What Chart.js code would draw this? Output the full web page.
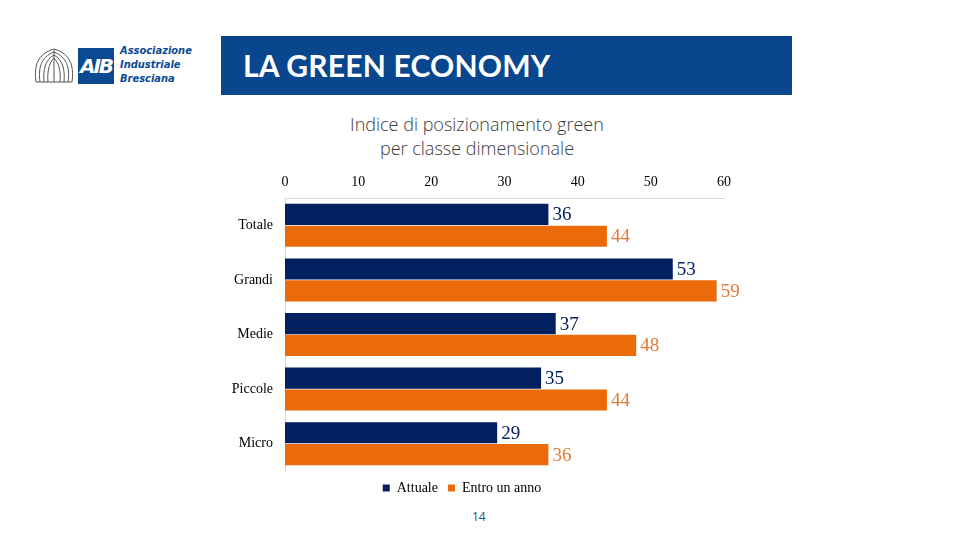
<!DOCTYPE html>
<html>
<head>
<meta charset="utf-8">
<script src="https://cdn.jsdelivr.net/npm/chart.js@4"></script>
<style>
  body { margin: 0; width: 960px; height: 540px; background: #fff; position: relative; overflow: hidden; font-family: "Open Sans", sans-serif; }
  .banner { position: absolute; left: 221px; top: 36px; width: 571px; height: 59px; background: #08468e; }
  .banner span { position: absolute; left: 22px; top: 11px; color: #fff; font-family: Lato, sans-serif; font-weight: 700; font-size: 30px; letter-spacing: 0.2px; }
  .logo-box { position: absolute; left: 78px; top: 48px; width: 36px; height: 36px; background: #0b4a92; color: #fff; font: italic 900 20px "DejaVu Sans", sans-serif; line-height: 36px; text-align: center; letter-spacing: -2px; }
  .logo-text { position: absolute; left: 120px; top: 44px; color: #0b4a92; font: italic 700 11px "DejaVu Sans Condensed", "DejaVu Sans", sans-serif; line-height: 14px; }
  .shell { position: absolute; left: 33px; top: 46px; }
  .title { position: absolute; left: 277px; top: 112px; width: 400px; text-align: center; font-family: "Open Sans", sans-serif; font-weight: 300; font-size: 18px; line-height: 24px; color: #3a3a3a; }
  .page { position: absolute; left: 472px; top: 508px; font-family: "Open Sans", sans-serif; font-size: 12px; color: #1f4e79; }
  #chartWrap { position: absolute; left: 200px; top: 165px; width: 570px; height: 340px; }
</style>
</head>
<body>
<svg class="shell" width="42" height="40" viewBox="0 0 42 40">
  <g fill="none" stroke="#555" stroke-width="1">
    <path d="M3 36 C1 20 4 8 21 3 C38 8 41 20 39 36"/>
    <path d="M7 36 C5 22 8 11 21 6 C34 11 37 22 35 36"/>
    <path d="M11 36 C10 24 12 14 21 9 C30 14 32 24 31 36"/>
    <path d="M15 36 C14 26 16 17 21 12 C26 17 28 26 27 36"/>
    <path d="M21 4 L21 36"/>
    <path d="M3 36 L39 36"/>
  </g>
</svg>
<div class="logo-box">AIB</div>
<div class="logo-text">Associazione<br>Industriale<br>Bresciana</div>
<div class="banner"><span>LA GREEN ECONOMY</span></div>
<div class="title">Indice di posizionamento green<br>per classe dimensionale</div>
<div id="chartWrap"><canvas id="greenChart"></canvas></div>
<div class="page">14</div>
<script>
const categories = ["Totale", "Grandi", "Medie", "Piccole", "Micro"];
const attuale = [36, 53, 37, 35, 29];
const entroUnAnno = [44, 59, 48, 44, 36];
const xTicks = [0, 10, 20, 30, 40, 50, 60];

const palette = {
  navy: "#002060",
  orange: "#eb6a09",
  orangeText: "#e27a35",
};

const serif = "'Liberation Serif', 'Times New Roman', serif";

// writes the value at the end of each bar
const valueLabels = {
  id: "valueLabels",
  afterDatasetsDraw(chart) {
    const ctx = chart.ctx;
    ctx.save();
    ctx.font = "19px " + serif;
    ctx.textBaseline = "middle";
    ctx.textAlign = "left";
    chart.data.datasets.forEach((ds, i) => {
      const meta = chart.getDatasetMeta(i);
      meta.data.forEach((bar, j) => {
        ctx.fillStyle = i === 0 ? palette.navy : palette.orangeText;
        ctx.fillText(ds.data[j], bar.x + 4, bar.y + 1);
      });
    });
    ctx.restore();
  },
};

new Chart(document.getElementById("greenChart"), {
  type: "bar",
  data: {
    labels: categories,
    datasets: [
      {
        label: "Attuale",
        data: attuale,
        backgroundColor: palette.navy,
        categoryPercentage: 0.8,
        barPercentage: 0.97,
      },
      {
        label: "Entro un anno",
        data: entroUnAnno,
        backgroundColor: palette.orange,
        categoryPercentage: 0.8,
        barPercentage: 0.97,
      },
    ],
  },
  options: {
    responsive: true,
    maintainAspectRatio: false,
    animation: false,
    indexAxis: "y",
    layout: { padding: { left: 0, right: 46, top: 0, bottom: 0 } },
    plugins: {
      legend: {
        position: "bottom",
        labels: {
          boxWidth: 7,
          boxHeight: 7,
          padding: 10,
          color: "#000",
          font: { family: serif, size: 14 },
        },
      },
      tooltip: { enabled: false },
    },
    scales: {
      x: {
        position: "top",
        min: 0,
        max: 60,
        afterBuildTicks: (axis) => {
          axis.ticks = xTicks.map((v) => ({ value: v }));
        },
        afterFit: (axis) => {
          axis.height = 33;
        },
        ticks: {
          color: "#000",
          padding: 7,
          font: { family: serif, size: 14 },
        },
        grid: { display: false, drawTicks: false },
        border: { display: true, color: "#d9d9d9" },
      },
      y: {
        afterFit: (axis) => {
          axis.width = 85;
        },
        ticks: {
          color: "#000",
          padding: 12,
          font: { family: serif, size: 14 },
        },
        grid: { display: false, drawTicks: false },
        border: { display: true, color: "#d9d9d9" },
      },
    },
  },
  plugins: [valueLabels],
});
</script>
</body>
</html>
